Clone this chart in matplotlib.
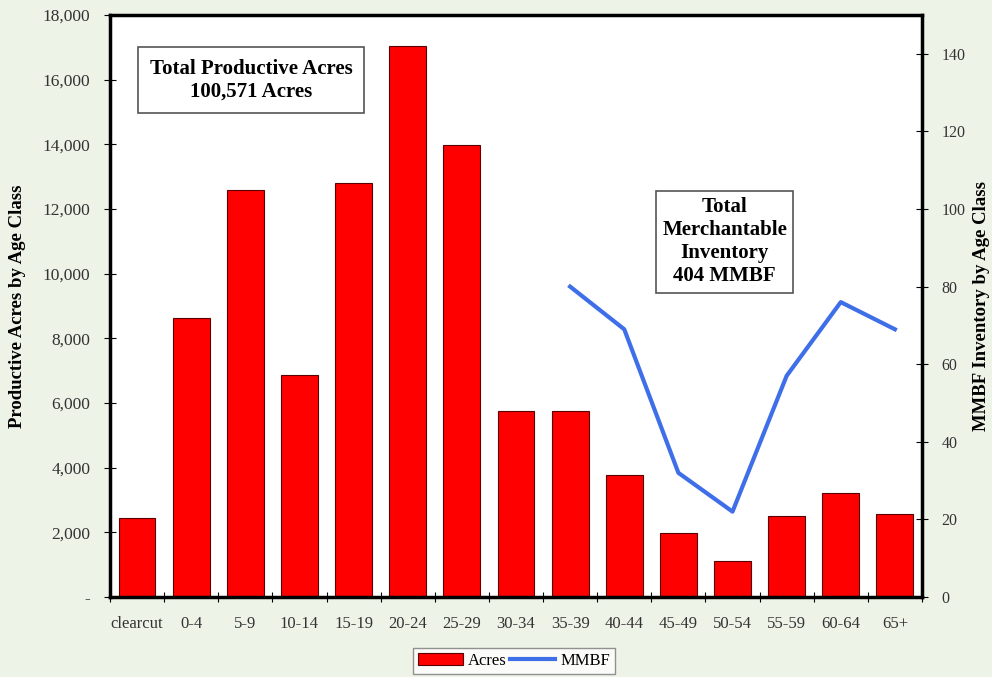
import matplotlib
matplotlib.use("Agg")
import matplotlib.pyplot as plt
from matplotlib.ticker import FuncFormatter, FixedLocator
import numpy as np

age_classes = ["clearcut", "0-4", "5-9", "10-14", "15-19", "20-24", "25-29",
               "30-34", "35-39", "40-44", "45-49", "50-54", "55-59", "60-64", "65+"]
acres = [2450, 8620, 12580, 6860, 12800, 17030, 13970,
         5760, 5740, 3770, 1980, 1110, 2500, 3210, 2560]
mmbf_classes = ["35-39", "40-44", "45-49", "50-54", "55-59", "60-64", "65+"]
mmbf = [80, 69, 32, 22, 57, 76, 69]

left_ticks = [0, 2000, 4000, 6000, 8000, 10000, 12000, 14000, 16000, 18000]
right_ticks = [0, 20, 40, 60, 80, 100, 120, 140]

plt.rcParams["font.family"] = ["Liberation Serif", "DejaVu Serif"]
bg = "#eef3e8"

fig = plt.figure(figsize=(9.92, 6.77), dpi=100, facecolor=bg)
ax = fig.add_axes([0.1109, 0.1182, 0.8185, 0.8596])
ax.set_facecolor("white")

x = np.arange(len(age_classes))
bars = ax.bar(x, acres, width=0.68, color="#ff0000", edgecolor="#5a0000",
              linewidth=0.8, label="Acres", zorder=2)
ax.set_xlim(-0.5, len(age_classes) - 0.5)
ax.set_ylim(0, 18000)
ax.yaxis.set_major_locator(FixedLocator(left_ticks))
ax.yaxis.set_major_formatter(FuncFormatter(lambda v, p: "-" if v == 0 else f"{int(v):,}"))
ax.set_xticks(x)
ax.set_xticklabels(age_classes)
ax.xaxis.set_minor_locator(FixedLocator(np.arange(-0.5, len(age_classes), 1.0)))
ax.tick_params(axis="x", which="major", length=0, pad=14, labelsize=12, colors="#333333")
ax.tick_params(axis="x", which="minor", direction="inout", length=7, width=0.8)
ax.tick_params(axis="y", direction="inout", length=8, width=0.8, labelsize=12.5,
               labelcolor="#333333", pad=10)
for s in ax.spines.values():
    s.set_linewidth(2.5)
    s.set_color("black")
ax.set_ylabel("Productive Acres by Age Class", fontsize=13.5, fontweight="bold")
ax.yaxis.set_label_coords(-0.1034, 0.5)

ax2 = ax.twinx()
ax2.set_ylim(0, 150)
ax2.yaxis.set_major_locator(FixedLocator(right_ticks))
mx = [age_classes.index(c) for c in mmbf_classes]
line, = ax2.plot(mx, mmbf, color="#3f6fe8", linewidth=3, label="MMBF", zorder=3)
ax2.tick_params(axis="y", direction="inout", length=8, width=0.8, labelsize=11.5,
                labelcolor="#333333", pad=10)
for s in ax2.spines.values():
    s.set_visible(False)
ax2.set_ylabel("MMBF Inventory by Age Class", fontsize=13.5, fontweight="bold")
ax2.yaxis.set_label_coords(1.0628, 0.5)

ax.text(0.174, 0.888, "Total Productive Acres\n100,571 Acres", transform=ax.transAxes,
        ha="center", va="center", fontsize=15, fontweight="bold", linespacing=1.2,
        bbox=dict(boxstyle="square,pad=0.55", facecolor="white", edgecolor="#555555",
                  linewidth=1.2), zorder=5)
ax.text(0.757, 0.61, "Total\nMerchantable\nInventory\n404 MMBF", transform=ax.transAxes,
        ha="center", va="center", fontsize=15, fontweight="bold", linespacing=1.2,
        bbox=dict(boxstyle="square,pad=0.3", facecolor="white", edgecolor="#555555",
                  linewidth=1.2), zorder=5)

leg = fig.legend([bars, line], ["Acres", "MMBF"], loc="lower center",
                 bbox_to_anchor=(0.518, -0.008), ncol=2, frameon=True, fancybox=False,
                 fontsize=12, handlelength=2.7, handletextpad=0.3, columnspacing=0.2,
                 borderpad=0.3)
leg.get_frame().set_edgecolor("#777777")
leg.get_frame().set_facecolor("white")
leg.get_frame().set_linewidth(1.0)

fig.savefig("out.png", dpi=100, facecolor=bg)
